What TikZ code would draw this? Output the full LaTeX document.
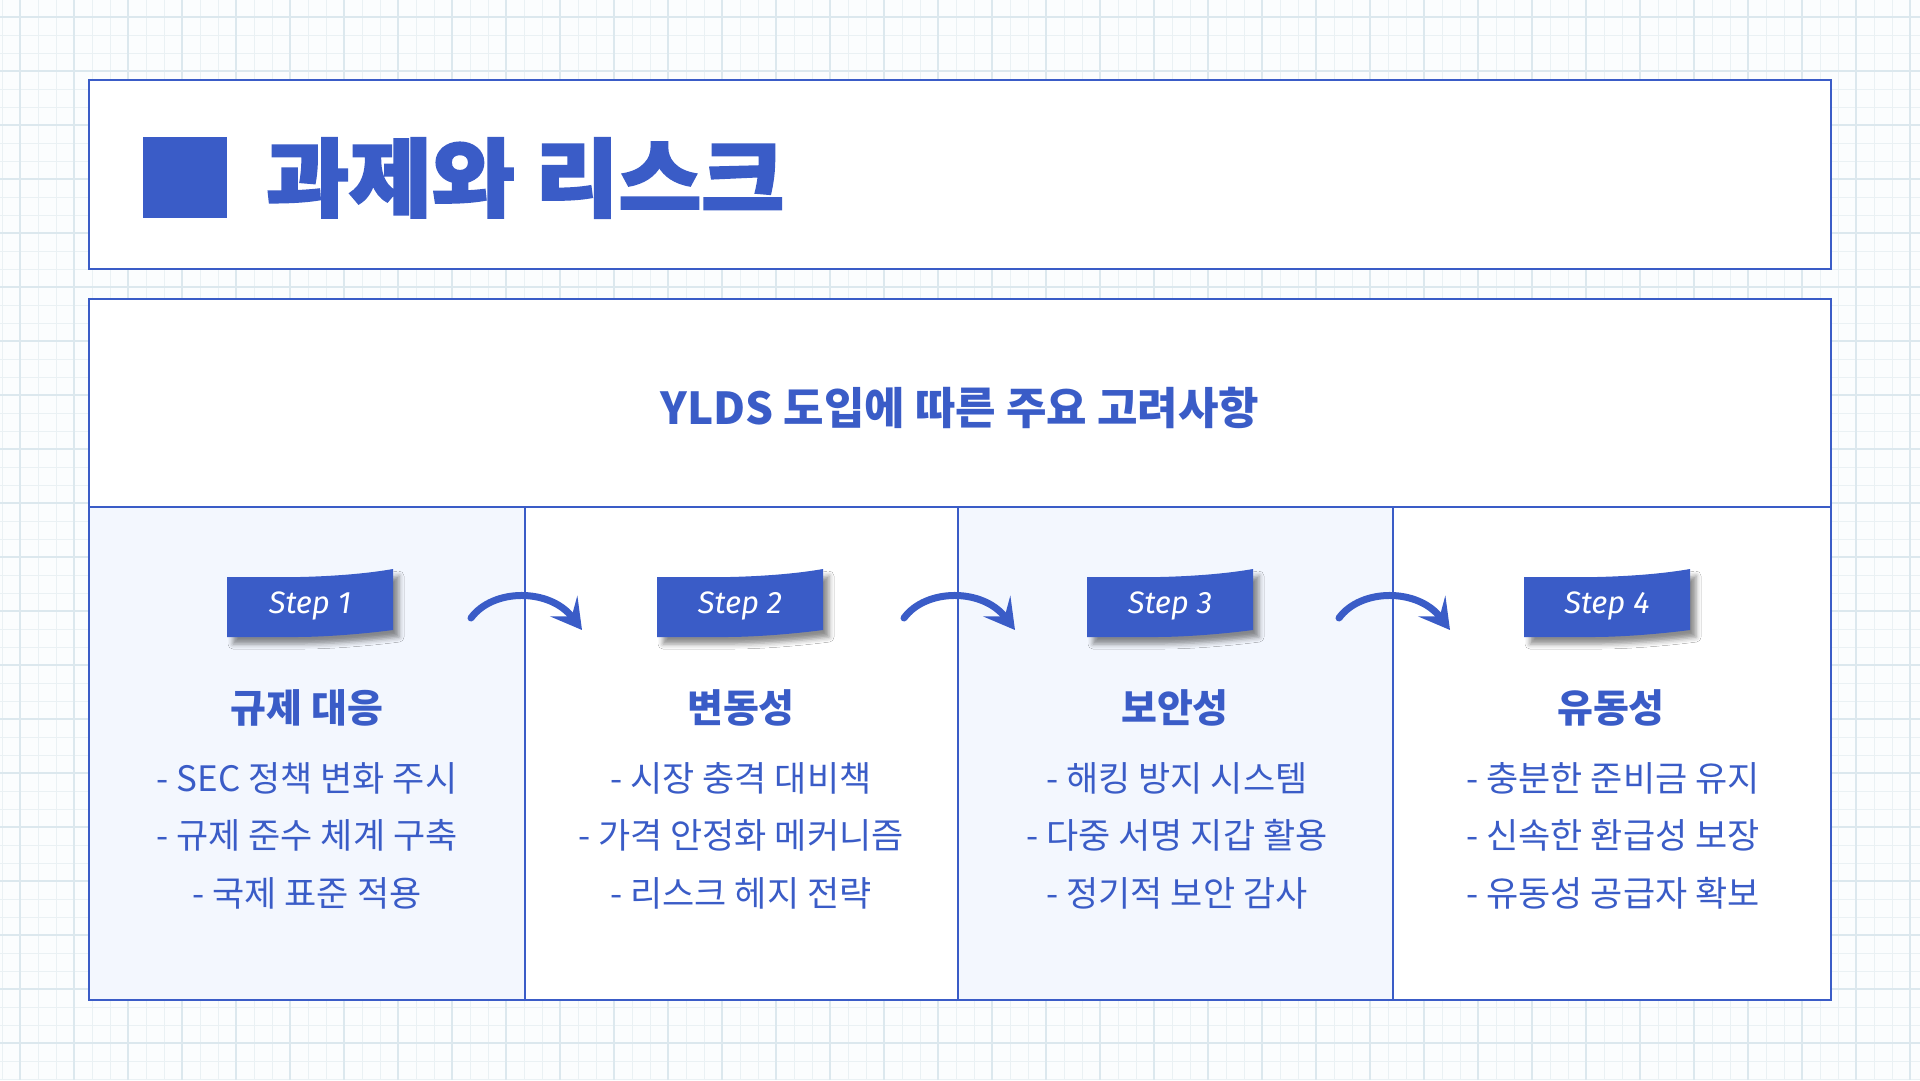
\documentclass[tikz,border=0pt]{standalone}
\usepackage{fontspec}
\usepackage{graphicx}
\setmainfont{Noto Sans CJK KR}
\newfontfamily\titlefont{Noto Sans CJK KR}[BoldFeatures={FakeBold=2.5}]
\newfontfamily\stepfont{Fira Sans}
\usetikzlibrary{arrows.meta,shadows.blur}
\definecolor{mainblue}{HTML}{3A5CC7}
\definecolor{lightfill}{HTML}{F3F7FE}
\definecolor{gridminor}{HTML}{EAF1F4}
\definecolor{gridmajor}{HTML}{DCE8EE}
\definecolor{bgcol}{HTML}{FBFDFE}
\tikzset{
  frame/.style={draw=mainblue, line width=2.5pt},
  tagbox/.style={fill=mainblue, draw=none, blur shadow={shadow xshift=6pt, shadow yshift=-7pt, shadow blur radius=5pt, shadow opacity=45}},
  tagtext/.style={text=white, font=\stepfont\itshape\fontsize{31}{31}\selectfont},
  headtext/.style={text=mainblue, font=\bfseries\fontsize{39}{44}\selectfont},
  itemtext/.style={text=mainblue, font=\fontsize{35}{40}\selectfont},
  flowarrow/.style={draw=mainblue, line width=7pt, line cap=round, -{Stealth[length=30pt, width=34pt, inset=13pt]}}
}
\begin{document}
\begin{tikzpicture}[x=1pt,y=-1pt]
\useasboundingbox (0,0) rectangle (1920,1080);
\fill[bgcol] (0,0) rectangle (1920,1080);
\foreach \x in {2,20,...,1920} \draw[gridminor, line width=1pt] (\x,0) -- (\x,1080);
\foreach \y in {17,35,...,1080} \draw[gridminor, line width=1pt] (0,\y) -- (1920,\y);
\foreach \x in {20,74,...,1920} \draw[gridmajor, line width=1.3pt] (\x,0) -- (\x,1080);
\foreach \y in {17,71,...,1080} \draw[gridmajor, line width=1.3pt] (0,\y) -- (1920,\y);

% title box
\node[frame, fill=white, minimum width=1742pt, minimum height=189pt, inner sep=0pt] (titlebox) at (960,174.5) {};
\node[fill=mainblue, minimum width=84pt, minimum height=81pt, inner sep=0pt] (titlesq) at (185,177.5) {};
\node[anchor=west, text=mainblue, inner sep=0pt, font=\titlefont\bfseries\fontsize{85}{90}\selectfont] (title) at (266,178) {\scalebox{1.06}[1]{과제와 리스크}};

% main box
\node[frame, fill=white, minimum width=1742pt, minimum height=701pt, inner sep=0pt] (mainbox) at (960,649.5) {};
\node[text=mainblue, font=\bfseries\fontsize{44}{48}\selectfont] (subtitle) at (960,408) {YLDS 도입에 따른 주요 고려사항};

% columns
\node[frame, fill=lightfill, minimum width=436pt, minimum height=493pt, inner sep=0pt] (col1) at (307,753.5) {};
\node[frame, fill=white, minimum width=433pt, minimum height=493pt, inner sep=0pt] (col2) at (741.5,753.5) {};
\node[frame, fill=lightfill, minimum width=435pt, minimum height=493pt, inner sep=0pt] (col3) at (1175.5,753.5) {};
\node[frame, fill=white, minimum width=438pt, minimum height=493pt, inner sep=0pt] (col4) at (1612,753.5) {};

% step tags
\foreach \i/\cx in {1/310,2/740,3/1170,4/1607}{
  \path[tagbox] (\cx-83,577) -- (\cx-10,577) .. controls (\cx+30,576) and (\cx+60,573) .. (\cx+83,569)
     -- (\cx+83,630) .. controls (\cx+60,633) and (\cx+20,637) .. (\cx-15,637) -- (\cx-83,637) -- cycle;
  \node[tagtext] (tag\i) at (\cx,606) {Step \i};
}

% headings
\node[headtext] (head1) at (307,708) {규제 대응};
\node[headtext] (head2) at (741,708) {변동성};
\node[headtext] (head3) at (1175,708) {보안성};
\node[headtext] (head4) at (1611,708) {유동성};

% items
\node[itemtext] (i11) at (307,778) {- SEC 정책 변화 주시};
\node[itemtext] (i12) at (307,835) {- 규제 준수 체계 구축};
\node[itemtext] (i13) at (307,893) {- 국제 표준 적용};
\node[itemtext] (i21) at (741,778) {- 시장 충격 대비책};
\node[itemtext] (i22) at (741,835) {- 가격 안정화 메커니즘};
\node[itemtext] (i23) at (741,893) {- 리스크 헤지 전략};
\node[itemtext] (i31) at (1177,778) {- 해킹 방지 시스템};
\node[itemtext] (i32) at (1177,835) {- 다중 서명 지갑 활용};
\node[itemtext] (i33) at (1177,893) {- 정기적 보안 감사};
\node[itemtext] (i41) at (1613,778) {- 충분한 준비금 유지};
\node[itemtext] (i42) at (1613,835) {- 신속한 환급성 보장};
\node[itemtext] (i43) at (1613,893) {- 유동성 공급자 확보};

% arrows
\foreach \k/\d in {1/525,2/958,3/1393}{
  \coordinate (as\k) at (\d-54,618);
  \coordinate (ae\k) at (\d+57,630);
  \draw[flowarrow] (as\k) .. controls +(22,-30) and +(-32,-42) .. (ae\k);
}
\end{tikzpicture}
\end{document}
